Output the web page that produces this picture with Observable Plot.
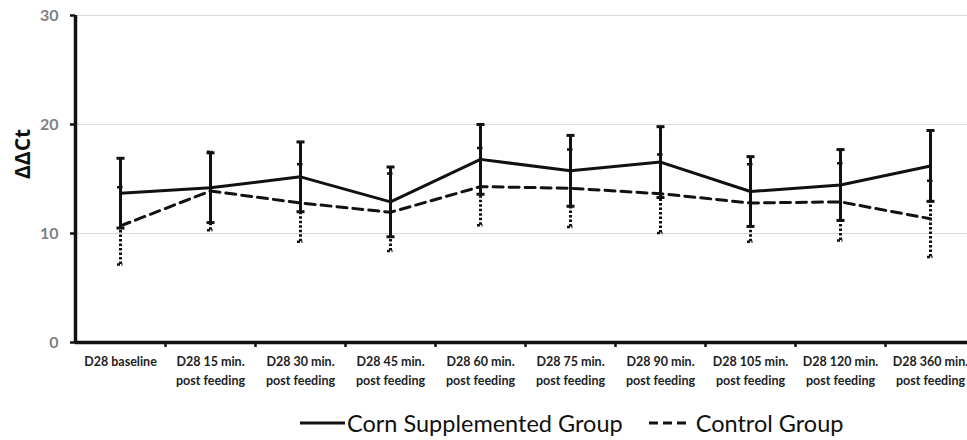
<!DOCTYPE html>
<html><head><meta charset="utf-8">
<script src="https://cdn.jsdelivr.net/npm/d3@7"></script>
<script src="https://cdn.jsdelivr.net/npm/@observablehq/plot@0.6"></script>
<style>
body{margin:0;background:#fff;font-family:Lato,sans-serif;overflow:hidden}
#legend{display:flex;align-items:center;padding-left:300px;margin-top:14px;height:28px;font-size:23.5px;color:#111}
#legend .item{display:flex;align-items:center;margin-right:26px}
</style>
</head><body><div id="chart"></div><div id="legend"></div><script>
const categories = ["D28 baseline","D28 15 min.\npost feeding","D28 30 min.\npost feeding","D28 45 min.\npost feeding","D28 60 min.\npost feeding","D28 75 min.\npost feeding","D28 90 min.\npost feeding","D28 105 min.\npost feeding","D28 120 min.\npost feeding","D28 360 min.\npost feeding"];
const cornMean = [13.7, 14.2, 15.2, 12.9, 16.8, 15.75, 16.55, 13.85, 14.45, 16.2];
const cornSD   = [3.2, 3.2, 3.2, 3.2, 3.2, 3.25, 3.25, 3.2, 3.25, 3.25];
const ctrlMean = [10.7, 13.9, 12.8, 11.95, 14.3, 14.15, 13.65, 12.8, 12.9, 11.35];
const ctrlSD   = [3.55, 3.6, 3.55, 3.55, 3.55, 3.55, 3.6, 3.55, 3.55, 3.5];
const yTicks = [0, 10, 20, 30];
const seriesNames = ["Corn Supplemented Group", "Control Group"];

const corn = categories.map((c, i) => ({i, mean: cornMean[i], lo: cornMean[i] - cornSD[i], hi: cornMean[i] + cornSD[i]}));
const ctrl = categories.map((c, i) => ({i, mean: ctrlMean[i], lo: ctrlMean[i] - ctrlSD[i], hi: ctrlMean[i] + ctrlSD[i]}));

const capSymbol = {draw(ctx, size) { const w = Math.sqrt(size / Math.PI); ctx.moveTo(-w, 0); ctx.lineTo(w, 0); }};

const chart = Plot.plot({
  width: 967, height: 395,
  marginLeft: 75, marginTop: 15, marginBottom: 53, marginRight: 0,
  style: {fontFamily: "Lato, sans-serif", background: "#fff", overflow: "hidden"},
  x: {domain: [-0.5, 9.5], range: [75, 975]},
  y: {domain: [0, 30], range: [342, 15]},
  marks: [
    Plot.gridY([10, 20, 30], {stroke: "#d9d9d9", strokeOpacity: 1, strokeWidth: 1}),
    Plot.axisY(yTicks, {tickSize: 5, tickPadding: 12, stroke: "#111", strokeWidth: 2.5, fill: "#808080", fontSize: 16, fontWeight: "bold", label: null}),
    Plot.axisX(d3.range(categories.length), {tickFormat: i => categories[i], tickSize: 0, tickPadding: 10, fontSize: 12.5, fontWeight: "bold", fill: "#222", lineHeight: 1.5, label: null}),
    Plot.axisX(d3.range(0.5, categories.length - 1, 1), {tickFormat: () => "", tickSize: 5, stroke: "#111", strokeWidth: 2.5, label: null}),
    Plot.text(["ΔΔCt"], {frameAnchor: "left", dx: -52, rotate: -90, fontSize: 21, fontWeight: "bold", fill: "#111", fontFamily: "'Open Sans', sans-serif"}),
    // control group
    Plot.lineY(ctrl, {x: "i", y: "mean", stroke: "#111", strokeWidth: 3, strokeDasharray: "10,6"}),
    Plot.ruleX(ctrl, {x: "i", y1: "lo", y2: "hi", stroke: "#111", strokeWidth: 3, strokeDasharray: "2.5,2"}),
    Plot.dot(ctrl, {x: "i", y: "hi", symbol: capSymbol, r: 3.5, stroke: "#111", strokeWidth: 2.5, strokeDasharray: "3,1.5,1,1.5", fill: "none"}),
    Plot.dot(ctrl, {x: "i", y: "lo", symbol: capSymbol, r: 3.5, stroke: "#111", strokeWidth: 2.5, strokeDasharray: "3,1.5,1,1.5", fill: "none"}),
    // corn group
    Plot.ruleX(corn, {x: "i", y1: "lo", y2: "hi", stroke: "#111", strokeWidth: 3}),
    Plot.dot(corn, {x: "i", y: "hi", symbol: capSymbol, r: 4, stroke: "#111", strokeWidth: 3, fill: "none"}),
    Plot.dot(corn, {x: "i", y: "lo", symbol: capSymbol, r: 4, stroke: "#111", strokeWidth: 3, fill: "none"}),
    Plot.lineY(corn, {x: "i", y: "mean", stroke: "#111", strokeWidth: 3}),
    // axis lines
    Plot.ruleX([-0.5], {stroke: "#111", strokeWidth: 3.5}),
    Plot.ruleY([0], {stroke: "#111", strokeWidth: 3.5})
  ]
});
document.getElementById("chart").append(chart);

const legend = document.getElementById("legend");
const lineSpecs = [{w: 45, dash: "", gap: 2}, {w: 38, dash: "9,5", gap: 9}];
seriesNames.forEach((name, k) => {
  const s = lineSpecs[k];
  const item = document.createElement("div");
  item.className = "item";
  item.innerHTML = `<svg width="${s.w}" height="10" style="margin-right:${s.gap}px"><line x1="0" y1="5" x2="${s.w}" y2="5" stroke="#111" stroke-width="3" stroke-dasharray="${s.dash}"/></svg><span>${name}</span>`;
  legend.append(item);
});
</script></body></html>
